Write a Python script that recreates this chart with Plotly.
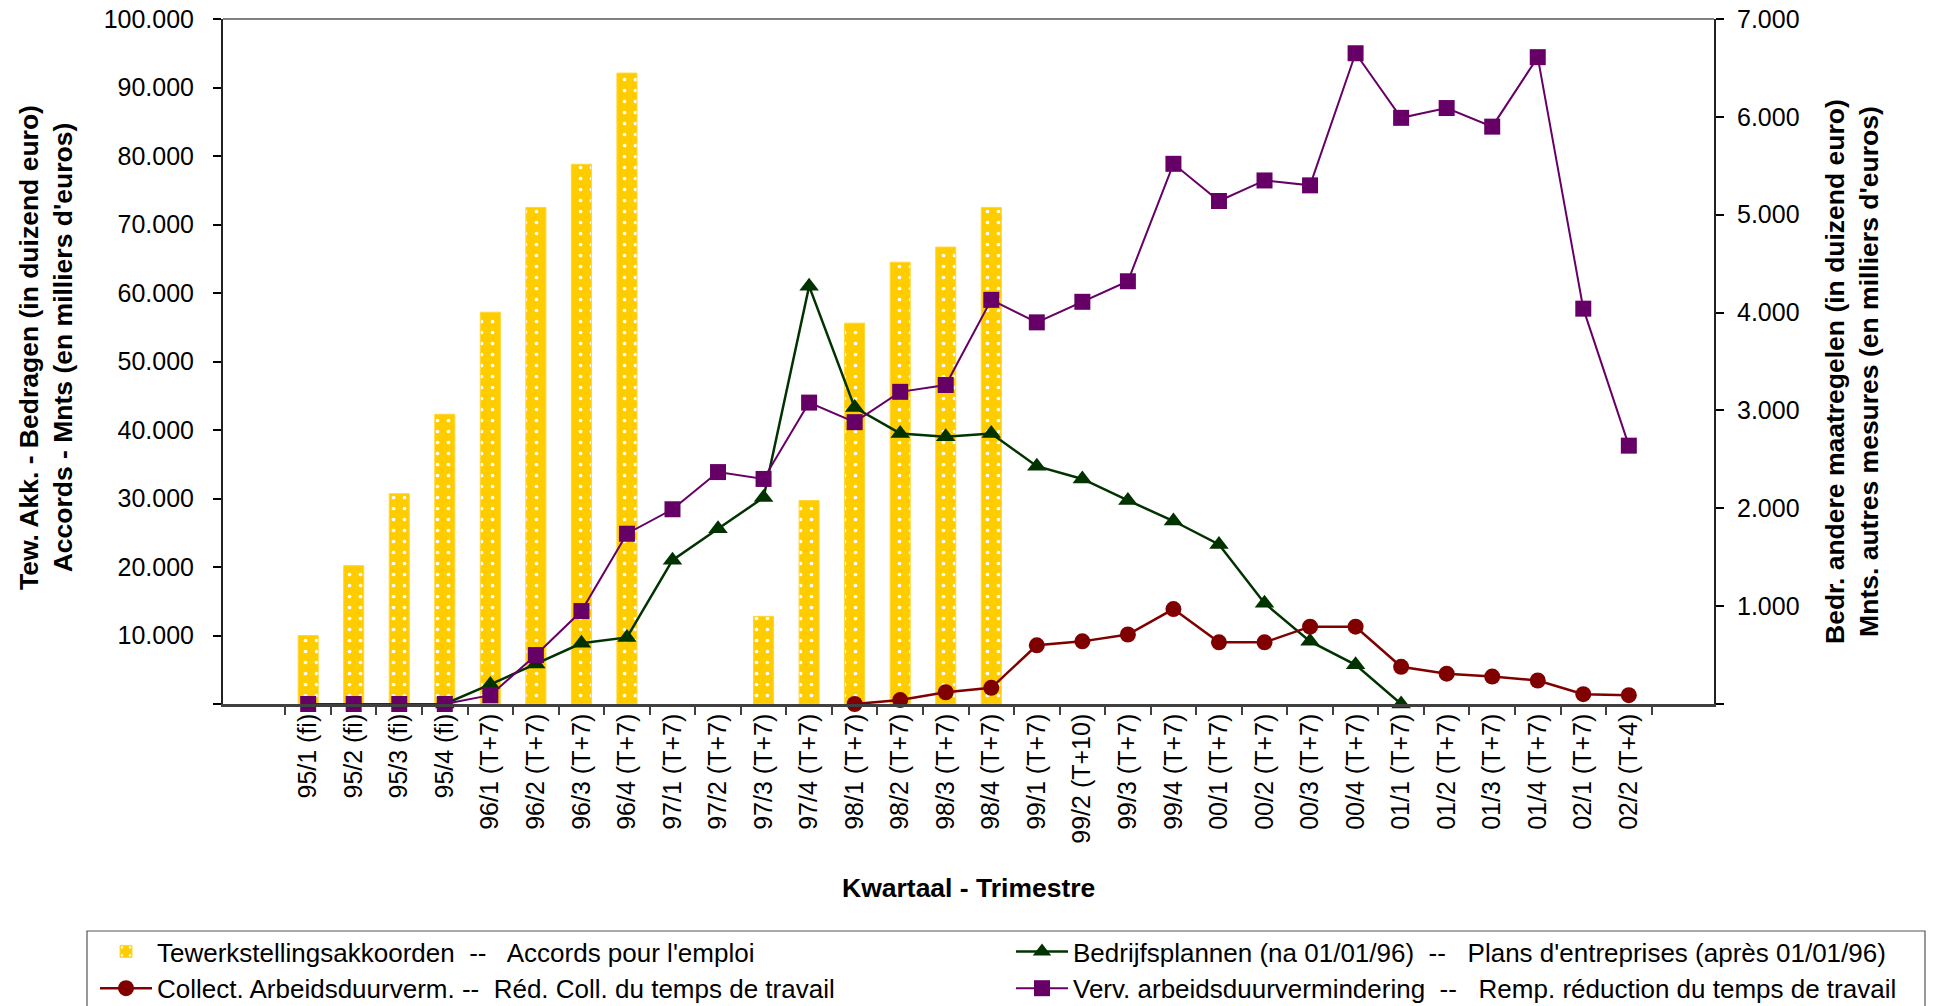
import plotly.graph_objects as go

quarters = ["95/1 (fi)", "95/2 (fi)", "95/3 (fi)", "95/4 (fi)",
            "96/1 (T+7)", "96/2 (T+7)", "96/3 (T+7)", "96/4 (T+7)",
            "97/1 (T+7)", "97/2 (T+7)", "97/3 (T+7)", "97/4 (T+7)",
            "98/1 (T+7)", "98/2 (T+7)", "98/3 (T+7)", "98/4 (T+7)",
            "99/1 (T+7)", "99/2 (T+10)", "99/3 (T+7)", "99/4 (T+7)",
            "00/1 (T+7)", "00/2 (T+7)", "00/3 (T+7)", "00/4 (T+7)",
            "01/1 (T+7)", "01/2 (T+7)", "01/3 (T+7)", "01/4 (T+7)",
            "02/1 (T+7)", "02/2 (T+4)"]

# Left axis (bars)
tewerk = [10000, 20200, 30700, 42300, 57200, 72500, 78800, 92100, None, None,
          12800, 29700, 55600, 64500, 66700, 72500,
          None, None, None, None, None, None, None, None, None, None, None, None, None, None]

# Right axis (lines)
bedrijf = [None, None, None, 0, 200, 410, 620, 680, 1470, 1790, 2110, 4270,
           3030, 2765, 2730, 2765, 2430, 2300, 2080, 1870, 1630, 1030, 640, 400,
           0, None, None, None, None, None]
collect = [None, None, None, None, None, None, None, None, None, None, None, None,
           0, 40, 120, 165, 600, 640, 710, 970, 630, 630, 790, 790,
           380, 310, 280, 240, 100, 90]
verv = [0, 0, 0, 0, 90, 500, 950, 1740, 1990, 2370, 2300, 3080,
        2880, 3190, 3260, 4130, 3900, 4110, 4320, 5520, 5140, 5350, 5300, 6650,
        5990, 6090, 5900, 6610, 4040, 2640]

left_ticks = list(range(0, 100001, 10000))
right_ticks = list(range(0, 7001, 1000))


def fmt(v):
    return "" if v == 0 else f"{v:,}".replace(",", ".")


FONT = "Liberation Sans, Arial, sans-serif"
W, H = 1939, 1006
# plot area in page pixels: left 223, right 1714, top 19, bottom 704
L, T = 223, 19
R = W - 1714
B = H - 704
PW, PH = W - L - R, H - T - B


def px2x(p):
    return (p - L) / PW


def px2y(p):
    return (H - B - p) / PH


fig = go.Figure()

fig.add_trace(go.Bar(
    x=quarters, y=tewerk, yaxis="y",
    name="Tewerkstellingsakkoorden&nbsp; --&nbsp;&nbsp; Accords pour l'emploi",
    marker=dict(color="#FFCC00", line=dict(width=1, color="#FFD633"),
                pattern=dict(shape=".", fgcolor="white", bgcolor="#FFCC00",
                             size=11, solidity=0.09, fillmode="replace")),
    legend="legend", legendgroup="a",
))

fig.add_trace(go.Scatter(
    x=quarters, y=bedrijf, yaxis="y2", mode="lines+markers",
    name="Bedrijfsplannen (na 01/01/96)&nbsp; --&nbsp;&nbsp; Plans d'entreprises (après 01/01/96)",
    line=dict(color="#003300", width=2.5),
    marker=dict(symbol="triangle-up", size=17, color="#003300"),
    cliponaxis=False, legend="legend2", legendgroup="b",
))

fig.add_trace(go.Scatter(
    x=quarters, y=collect, yaxis="y2", mode="lines+markers",
    name="Collect. Arbeidsduurverm. --&nbsp; Réd. Coll. du temps de travail",
    line=dict(color="#800000", width=2.5),
    marker=dict(symbol="circle", size=16, color="#800000"),
    cliponaxis=False, legend="legend", legendgroup="c",
))

fig.add_trace(go.Scatter(
    x=quarters, y=verv, yaxis="y2", mode="lines+markers",
    name="Verv. arbeidsduurvermindering&nbsp; --&nbsp;&nbsp; Remp. réduction du temps de travail",
    line=dict(color="#660066", width=2),
    marker=dict(symbol="square", size=16, color="#660066"),
    cliponaxis=False, legend="legend2", legendgroup="d",
))

legend_common = dict(
    orientation="v", xanchor="left", yanchor="top",
    font=dict(family=FONT, size=26, color="black"),
    bgcolor="rgba(0,0,0,0)", borderwidth=0,
    itemwidth=52, tracegroupgap=5, traceorder="normal",
    itemclick=False, itemdoubleclick=False,
)

fig.update_layout(
    width=W, height=H,
    margin=dict(l=L, r=R, t=T, b=B, autoexpand=False),
    paper_bgcolor="white", plot_bgcolor="white",
    font=dict(family=FONT, size=25, color="black"),
    bargap=0.56,
    showlegend=True,
    legend=dict(x=px2x(95), y=px2y(928), **legend_common),
    legend2=dict(x=px2x(1011), y=px2y(928), **legend_common),
    xaxis=dict(
        type="category", tickangle=-90, tickson="boundaries",
        ticks="outside", ticklen=8, tickwidth=1.5, tickcolor="#404040",
        showline=True, linecolor="#404040", linewidth=2.5,
        showgrid=False, zeroline=False,
        tickfont=dict(family=FONT, size=25, color="black"),
        ticklabelstandoff=-3,
    ),
    yaxis=dict(
        range=[0, 100000], tickvals=left_ticks, ticktext=[fmt(v) for v in left_ticks],
        ticks="outside", ticklen=8, tickwidth=1.5, tickcolor="black",
        showline=True, linecolor="#222222", linewidth=2,
        showgrid=False, zeroline=False,
        tickfont=dict(family=FONT, size=25, color="black"),
        ticklabelstandoff=14, ticklabeloverflow="allow",
    ),
    yaxis2=dict(
        range=[0, 7000], tickvals=right_ticks, ticktext=[fmt(v) for v in right_ticks],
        overlaying="y", side="right",
        ticks="outside", ticklen=8, tickwidth=1.5, tickcolor="black",
        showline=True, linecolor="#222222", linewidth=2,
        showgrid=False, zeroline=False,
        tickfont=dict(family=FONT, size=25, color="black"),
        ticklabelstandoff=8, ticklabeloverflow="allow",
    ),
    shapes=[
        dict(type="line", xref="paper", yref="paper", x0=0, x1=1, y0=1, y1=1,
             line=dict(color="#808080", width=2)),
        dict(type="rect", xref="paper", yref="paper",
             x0=px2x(87), x1=px2x(1925), y0=px2y(931), y1=px2y(1030),
             line=dict(color="#555555", width=1.2), fillcolor="rgba(0,0,0,0)"),
    ],
    annotations=[
        dict(text="Tew. Akk. - Bedragen (in duizend euro)<br>Accords - Mnts (en milliers d'euros)",
             xref="paper", yref="paper", x=px2x(46), y=px2y(348),
             xanchor="center", yanchor="middle", textangle=-90, showarrow=False,
             align="center", font=dict(family=FONT, size=26.5, color="black", weight="bold")),
        dict(text="Bedr. andere maatregelen (in duizend euro)<br>Mnts. autres mesures (en milliers d'euros)",
             xref="paper", yref="paper", x=px2x(1852), y=px2y(372),
             xanchor="center", yanchor="middle", textangle=-90, showarrow=False,
             align="center", font=dict(family=FONT, size=26.5, color="black", weight="bold")),
        dict(text="Kwartaal - Trimestre",
             xref="paper", yref="paper", x=px2x(968), y=px2y(888),
             xanchor="center", yanchor="middle", showarrow=False,
             font=dict(family=FONT, size=26.5, color="black", weight="bold")),
    ],
)

# remove the browser's default 8px page margin so the figure sits at the page origin
fig.write_html("out.html",
               config={"displayModeBar": False},
               post_script="document.body.style.margin='0';document.body.style.overflow='hidden';")
